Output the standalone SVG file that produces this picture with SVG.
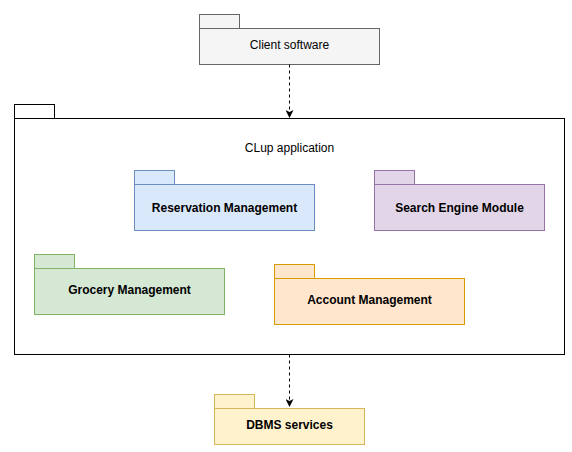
<svg xmlns="http://www.w3.org/2000/svg" width="572" height="452" viewBox="0 0 572 452">
<style>
text{font-family:"Liberation Sans",Arial,sans-serif;font-size:12px;fill:#000;text-anchor:middle;dominant-baseline:central}
.b{font-weight:bold}
.conn{stroke:#000;stroke-width:1;fill:none;stroke-dasharray:3 3}
</style>
<defs>
<marker id="ah" viewBox="0 0 10 10" refX="10" refY="5" markerWidth="8" markerHeight="8" markerUnits="userSpaceOnUse" orient="auto">
<path d="M0,0 L10,5 L0,10 L2.5,5 Z" fill="#000"/>
</marker>
</defs>
<rect width="572" height="452" fill="#fff"/>
<g id="client">
<rect x="199.5" y="14.5" width="40" height="14" fill="#f5f5f5" stroke="#666"/>
<rect x="199.5" y="28.5" width="180" height="36" fill="#f5f5f5" stroke="#666"/>
<text x="289.5" y="45">Client software</text>
</g>
<g id="clup">
<rect x="14.5" y="104.5" width="40" height="14" fill="#fff" stroke="#000"/>
<rect x="14.5" y="118.5" width="550" height="236" fill="#fff" stroke="#000"/>
<text x="289.5" y="148">CLup application</text>
</g>
<g id="reservation">
<rect x="134.5" y="170.5" width="40" height="14" fill="#dae8fc" stroke="#6c8ebf"/>
<rect x="134.5" y="184.5" width="180" height="46" fill="#dae8fc" stroke="#6c8ebf"/>
<text class="b" x="224.5" y="208">Reservation Management</text>
</g>
<g id="search">
<rect x="374.5" y="170.5" width="40" height="14" fill="#e1d5e7" stroke="#9673a6"/>
<rect x="374.5" y="184.5" width="170" height="46" fill="#e1d5e7" stroke="#9673a6"/>
<text class="b" x="459.5" y="208">Search Engine Module</text>
</g>
<g id="grocery">
<rect x="34.5" y="254.5" width="40" height="14" fill="#d5e8d4" stroke="#82b366"/>
<rect x="34.5" y="268.5" width="190" height="46" fill="#d5e8d4" stroke="#82b366"/>
<text class="b" x="129.5" y="290">Grocery Management</text>
</g>
<g id="account">
<rect x="274.5" y="264.5" width="40" height="14" fill="#ffe6cc" stroke="#d79b00"/>
<rect x="274.5" y="278.5" width="190" height="46" fill="#ffe6cc" stroke="#d79b00"/>
<text class="b" x="369.5" y="300">Account Management</text>
</g>
<g id="dbms">
<rect x="214.5" y="394.5" width="40" height="14" fill="#fff2cc" stroke="#d6b656"/>
<rect x="214.5" y="408.5" width="150" height="36" fill="#fff2cc" stroke="#d6b656"/>
<text class="b" x="289.5" y="425">DBMS services</text>
</g>
<g id="connectors">
<path class="conn" d="M289.5,64.5 L289.5,118" marker-end="url(#ah)"/>
<path class="conn" d="M289.5,354.5 L289.5,407" marker-end="url(#ah)"/>
</g>
</svg>
